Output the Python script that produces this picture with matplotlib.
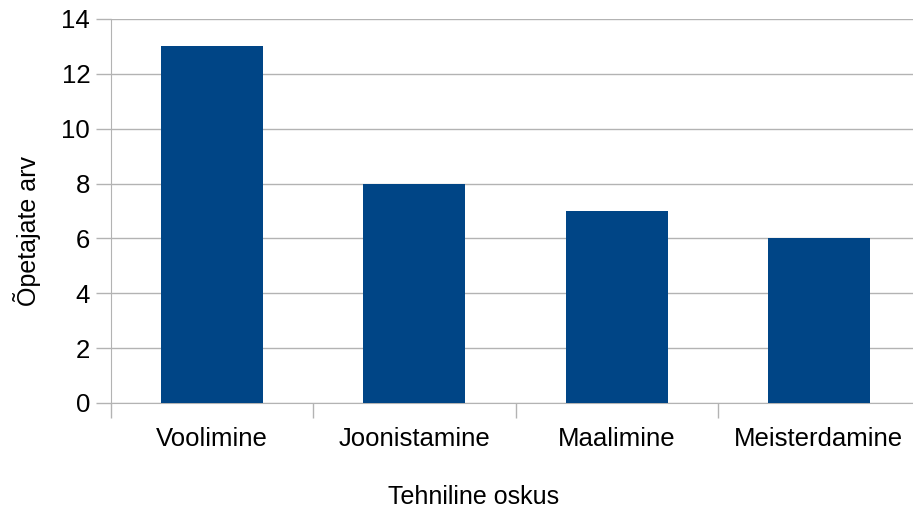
import matplotlib
matplotlib.use("Agg")
import matplotlib.pyplot as plt
import numpy as np

# data
categories = ["Voolimine", "Joonistamine", "Maalimine", "Meisterdamine"]
counts = [13, 8, 7, 6]
yticks = [0, 2, 4, 6, 8, 10, 12, 14]

plt.rcParams['font.family'] = ['Liberation Sans', 'DejaVu Sans']

W, H = 913, 509
fig = plt.figure(figsize=(W/100, H/100), dpi=100)
# plot area in pixels: left 111, right 920 (runs off the picture), top 19, bottom 403
ax = fig.add_axes([111/W, (H-403)/H, (920-111)/W, (403-19)/H])

x = np.arange(len(categories))
ax.bar(x, counts, width=0.505, color="#004586", zorder=3)

ax.set_xlim(-0.5, len(categories)-0.5)
ax.set_ylim(0, 14)
ax.set_yticks(yticks)
ax.set_yticklabels([str(t) for t in yticks])

# category labels at centres, tick marks at boundaries
ax.set_xticks(x)
ax.set_xticklabels(categories)
ax.set_xticks(np.arange(len(categories)+1)-0.5, minor=True)
ax.tick_params(axis='x', which='major', length=0, labelsize=18.5, pad=17)
ax.tick_params(axis='x', which='minor', length=11, color="#b3b3b3", width=1)
ax.tick_params(axis='y', length=11, color="#b3b3b3", width=1, labelsize=18.5, pad=4)

ax.grid(axis='y', color="#b3b3b3", linewidth=1, zorder=0)
for s in ['top', 'right']:
    ax.spines[s].set_visible(False)
ax.spines['left'].set_color("#b3b3b3")
ax.spines['bottom'].set_color("#b3b3b3")

fig.text(474/W, 1-497/H, "Tehniline oskus", ha='center', va='center', fontsize=18)
fig.text(27/W, 1-231/H, "Õpetajate arv", ha='center', va='center', rotation=90, fontsize=18)

fig.savefig("out.png", dpi=100)
